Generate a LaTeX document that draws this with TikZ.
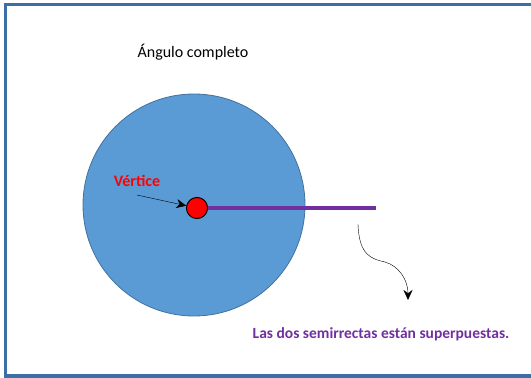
\documentclass[tikz,border=0pt]{standalone}
\usepackage{fontspec}
\setmainfont{Carlito}
\usetikzlibrary{arrows.meta,positioning}

\definecolor{frameblue}{HTML}{3B6FA6}
\definecolor{discblue}{HTML}{5B9BD5}
\definecolor{discline}{HTML}{41719C}
\definecolor{raypurple}{HTML}{7030A0}

\begin{document}
\begin{tikzpicture}[
    x=1pt, y=-1pt,
    disc/.style={
        circle,
        draw=discline,
        fill=discblue,
        thick,
        inner sep=0pt,
        minimum size=222pt},
    vertexdot/.style={
        circle,
        draw=black,
        fill=red,
        thick,
        inner sep=0pt,
        minimum size=21pt},
    titletext/.style={font=\fontsize{16}{19}\selectfont},
    vertexlabel/.style={text=red, font=\fontsize{16}{19}\selectfont\bfseries},
    notetext/.style={text=raypurple, font=\fontsize{15.5}{18}\selectfont\bfseries},
    ray/.style={draw=raypurple, line width=4pt},
    pointer/.style={-{Stealth[length=10pt,width=9pt]}, thin}
    ]
    \useasboundingbox (0,0) rectangle (531,378);
    \draw[draw=frameblue, line width=3.5pt] (5.5,4.5) rectangle (545,376);

    \node[titletext] (title) at (193,52) {Ángulo completo};
    \node[disc] (disc) at (194,205) {};
    \coordinate (rayend) at (376,208);
    \node[vertexdot] (vertex) at (197,208) {};
    \draw[ray] (vertex.east) -- (rayend);
    \node[vertexdot] at (vertex) {}; % dot over the ray

    \node[vertexlabel] (vlabel) at (137,181) {Vértice};
    \coordinate (vtail) at (137,195);
    \draw[pointer] (vtail) -- (vertex.168);

    \node[notetext] (note) at (381,334) {Las dos semirrectas están superpuestas.};
    \coordinate (wstart) at (358,224);
    \coordinate (wtip) at (408,300);
    \draw[pointer] (wstart) .. controls (359,256) and (372,259) .. (385,262)
        .. controls (399,266) and (408,280) .. (wtip);
\end{tikzpicture}
\end{document}
